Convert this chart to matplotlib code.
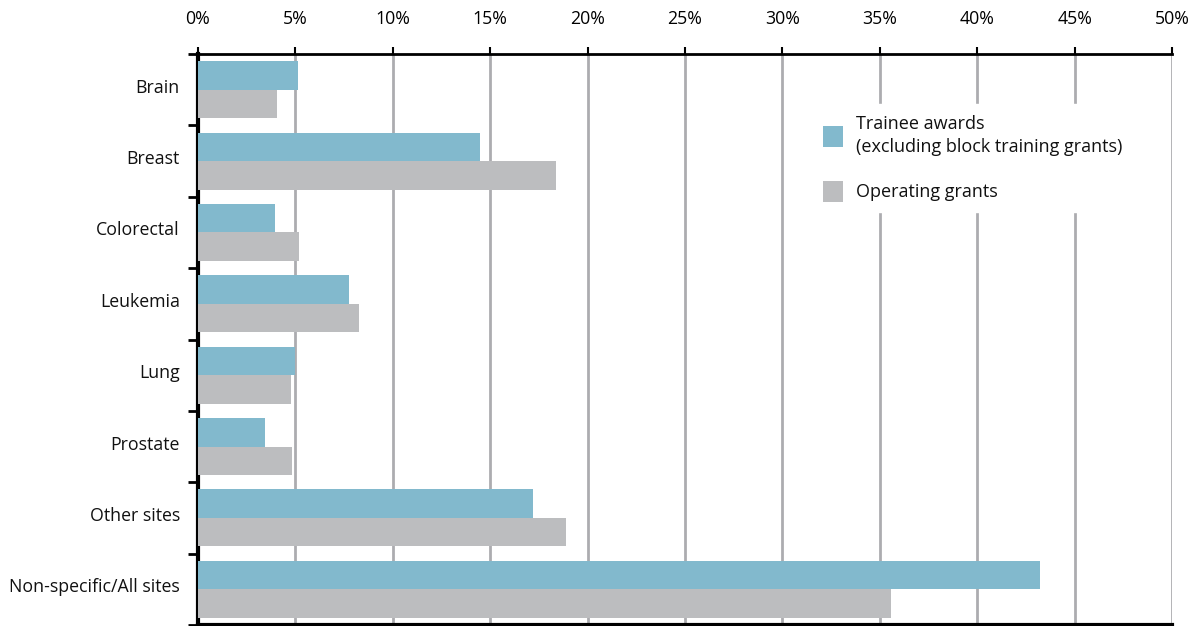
import matplotlib
matplotlib.use("Agg")
import matplotlib.pyplot as plt
import matplotlib.transforms as mtransforms
import numpy as np

categories = ["Brain", "Breast", "Colorectal", "Leukemia", "Lung", "Prostate",
              "Other sites", "Non-specific/All sites"]
trainee = [5.15, 14.5, 3.95, 7.75, 5.0, 3.45, 17.2, 43.2]
operating = [4.05, 18.4, 5.2, 8.25, 4.75, 4.85, 18.9, 35.55]
xticks = [0, 5, 10, 15, 20, 25, 30, 35, 40, 45, 50]
xticklabels = [f"{t}%" for t in xticks]

teal = "#82b9cd"
grey = "#bcbdbf"
gridc = "#acacb0"

plt.rcParams["font.family"] = ["Open Sans", "DejaVu Sans"]

fig = plt.figure(figsize=(11.97, 6.26), dpi=100)
ax = fig.add_axes([198 / 1197, 1 - 625 / 626, (1172 - 198) / 1197, (625 - 54) / 626])

n = len(categories)
y = np.arange(n)
h = 0.4
ax.barh(y - h / 2, trainee, height=h, color=teal, zorder=3,
        label="Trainee awards\n(excluding block training grants)")
ax.barh(y + h / 2, operating, height=h, color=grey, zorder=3,
        label="Operating grants")

ax.set_xlim(0, 50)
ax.set_ylim(n - 0.5, -0.5)

ax.xaxis.tick_top()
ax.set_xticks(xticks)
ax.set_xticklabels(xticklabels, fontsize=12.8, color="#111111")
ax.tick_params(axis="x", direction="out", length=5, width=1.5, pad=13.5, colors="black")
ax.xaxis.grid(True, color=gridc, linewidth=2, zorder=0)

ax.set_yticks(y)
ax.set_yticklabels(categories, fontsize=12.8, color="#111111")
ax.tick_params(axis="y", which="major", length=0, pad=13)
ax.set_yticks(np.arange(n + 1) - 0.5, minor=True)
ax.tick_params(axis="y", which="minor", direction="out", length=7, width=2, colors="black")

# nudge category labels slightly above the group centre
shift = mtransforms.ScaledTranslation(0, 4 / 100, fig.dpi_scale_trans)
for lab in ax.get_yticklabels():
    lab.set_transform(lab.get_transform() + shift)

for side in ["top", "bottom", "left"]:
    ax.spines[side].set_color("black")
ax.spines["top"].set_linewidth(2)
ax.spines["bottom"].set_linewidth(3)
ax.spines["left"].set_linewidth(3)
ax.spines["right"].set_visible(False)

leg = ax.legend(loc="upper left", bbox_to_anchor=((812 - 198) / 974, 1 - (104 - 54) / 571),
                frameon=True, fontsize=13, handlelength=1.1, handleheight=1.4,
                handletextpad=0.75, labelspacing=1.35, borderpad=0.6, borderaxespad=0)
leg.get_frame().set_facecolor("white")
leg.get_frame().set_edgecolor("white")
leg.get_frame().set_alpha(1)
leg.set_zorder(5)
for t in leg.get_texts():
    t.set_linespacing(1.4)
    t.set_color("#111111")

fig.savefig("out.png", dpi=100)
